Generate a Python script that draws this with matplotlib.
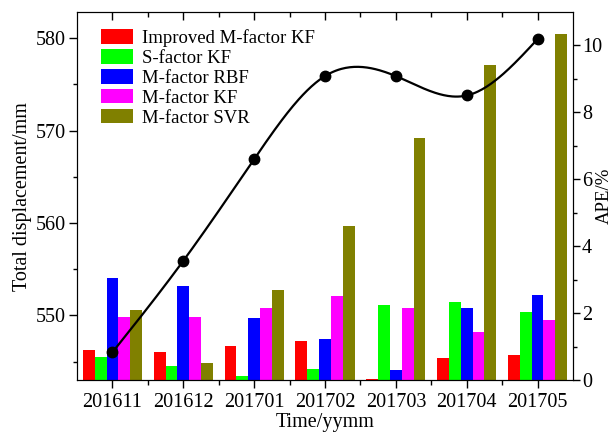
import numpy as np
import matplotlib
matplotlib.use('Agg')
import matplotlib.pyplot as plt

months = ['201611', '201612', '201701', '201702', '201703', '201704', '201705']

# total displacement (left axis, mm)
displacement = [546.0, 555.9, 566.9, 575.9, 575.9, 573.8, 579.9]

# APE of each model (right axis, %)
improved_m_kf = [0.89, 0.85, 1.01, 1.17, 0.02, 0.65, 0.76]
s_kf = [0.70, 0.42, 0.12, 0.32, 2.25, 2.33, 2.02]
m_rbf = [3.04, 2.82, 1.85, 1.22, 0.30, 2.14, 2.54]
m_kf = [1.87, 1.87, 2.16, 2.51, 2.15, 1.43, 1.80]
m_svr = [2.08, 0.52, 2.68, 4.60, 7.23, 9.40, 10.32]

series = [
    ('Improved M-factor KF', improved_m_kf, '#ff0000'),
    ('S-factor KF', s_kf, '#00ff00'),
    ('M-factor RBF', m_rbf, '#0000ff'),
    ('M-factor KF', m_kf, '#ff00ff'),
    ('M-factor SVR', m_svr, '#808000'),
]


def natural_spline(x, y, n=300):
    # natural cubic spline through the points, like Origin's spline connection
    x = np.asarray(x, float)
    y = np.asarray(y, float)
    k = len(x)
    h = np.diff(x)
    A = np.zeros((k, k))
    b = np.zeros(k)
    A[0, 0] = A[-1, -1] = 1
    for i in range(1, k - 1):
        A[i, i - 1] = h[i - 1]
        A[i, i] = 2 * (h[i - 1] + h[i])
        A[i, i + 1] = h[i]
        b[i] = 6 * ((y[i + 1] - y[i]) / h[i] - (y[i] - y[i - 1]) / h[i - 1])
    m = np.linalg.solve(A, b)
    xs = np.linspace(x[0], x[-1], n)
    idx = np.clip(np.searchsorted(x, xs) - 1, 0, k - 2)
    x0, x1 = x[idx], x[idx + 1]
    hh = x1 - x0
    t0, t1 = x1 - xs, xs - x0
    ys = (m[idx] * t0 ** 3 + m[idx + 1] * t1 ** 3) / (6 * hh) \
        + (y[idx] / hh - m[idx] * hh / 6) * t0 \
        + (y[idx + 1] / hh - m[idx + 1] * hh / 6) * t1
    return xs, ys


plt.rcParams['font.family'] = ['Liberation Serif', 'DejaVu Serif']
plt.rcParams['font.size'] = 14.5

fig = plt.figure(figsize=(6.13, 4.41), dpi=100)
ax1 = fig.add_axes([0.1256, 0.1383, 0.8091, 0.8337])
ax2 = ax1.twinx()

x = np.arange(len(months))
w = 1 / 6
handles = []
for i, (name, vals, col) in enumerate(series):
    h = ax2.bar(x + (i - 2) * w, vals, width=w, color=col, label=name)
    handles.append(h)

sx, sy = natural_spline(x, displacement)
ax1.plot(sx, sy, color='black', lw=1.6)
ax1.plot(x, displacement, 'o', color='black', ms=7.5)

ax1.set_zorder(ax2.get_zorder() + 1)
ax1.patch.set_visible(False)

ax1.set_xlim(-0.5, 6.5)
ax1.set_ylim(543, 582.8)
ax2.set_ylim(0, 10.98)

ax1.set_xticks(x)
ax1.set_xticklabels(months)
ax1.set_xticks(x[:-1] + 0.5, minor=True)
ax1.set_yticks([550, 560, 570, 580])
ax1.set_yticks([545, 555, 565, 575], minor=True)
ax2.set_yticks([0, 2, 4, 6, 8, 10])
ax2.set_yticks(np.arange(1, 11, 2), minor=True)

ax1.tick_params(axis='x', which='both', direction='out', top=True)
ax1.tick_params(axis='x', which='major', length=6, width=1, pad=3)
ax1.tick_params(axis='x', which='minor', length=3.5, width=1)
ax1.tick_params(axis='y', which='major', direction='out', length=6, width=1, pad=2)
ax1.tick_params(axis='y', which='minor', direction='out', length=3, width=1)
ax2.tick_params(axis='y', which='major', direction='out', length=5, width=1, pad=1.5)
ax2.tick_params(axis='y', which='minor', direction='out', length=3, width=1)

# top ticks point inward
for t in ax1.xaxis.get_major_ticks() + ax1.xaxis.get_minor_ticks():
    t.tick2line.set_marker(3)

ax1.set_xlabel('Time/yymm', labelpad=1)
ax1.set_ylabel('Total displacement/mm', labelpad=3)
ax2.set_ylabel('APE/%', fontsize=13.5)
ax2.yaxis.set_label_coords(1.046, 0.5)

ax1.legend(handles=handles, loc='upper left', bbox_to_anchor=(0.025, 0.985),
           frameon=False, fontsize=13.5, handlelength=1.75, handleheight=0.8,
           labelspacing=0.12, handletextpad=0.45, borderaxespad=0.2)

fig.savefig('out.png', dpi=100)
